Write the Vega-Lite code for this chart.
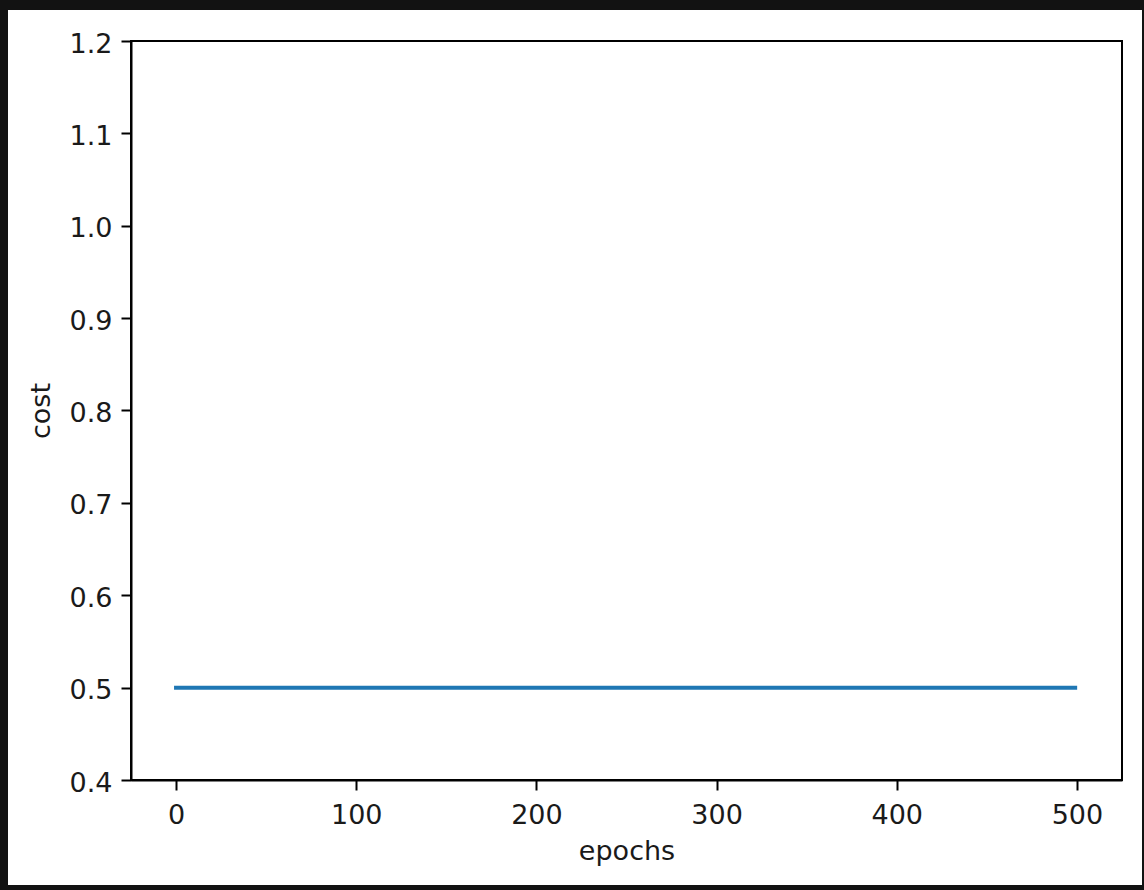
{
  "$schema": "https://vega.github.io/schema/vega-lite/v6.json",
  "width": 991,
  "height": 739,
  "autosize": {"type": "none"},
  "padding": {"left": 131, "top": 41, "right": 22, "bottom": 110},
  "background": "#121212",
  "data": {
    "values": [
      {"epoch": 0, "cost": 0.5},
      {"epoch": 50, "cost": 0.5},
      {"epoch": 100, "cost": 0.5},
      {"epoch": 150, "cost": 0.5},
      {"epoch": 200, "cost": 0.5},
      {"epoch": 250, "cost": 0.5},
      {"epoch": 300, "cost": 0.5},
      {"epoch": 350, "cost": 0.5},
      {"epoch": 400, "cost": 0.5},
      {"epoch": 450, "cost": 0.5},
      {"epoch": 499, "cost": 0.5}
    ]
  },
  "config": {
    "view": {"stroke": null},
    "axis": {
      "grid": false,
      "domainColor": "#000000",
      "domainWidth": 2,
      "tickColor": "#000000",
      "tickWidth": 2,
      "tickSize": 10,
      "labelFont": "DejaVu Sans",
      "labelFontSize": 27,
      "labelColor": "#1a1a1a",
      "labelFlush": false,
      "labelOverlap": false,
      "titleFont": "DejaVu Sans",
      "titleFontSize": 27,
      "titleFontWeight": "normal",
      "titleColor": "#1a1a1a"
    },
    "axisX": {"labelPadding": 12, "titlePadding": 10},
    "axisY": {"labelPadding": 9, "labelOffset": 3, "titlePadding": 14}
  },
  "layer": [
    {
      "mark": {"type": "rect", "fill": "#ffffff", "clip": false, "tooltip": null},
      "encoding": {
        "x": {"datum": -93.26, "type": "quantitative", "title": "epochs", "scale": {"domain": [-25, 525], "nice": false, "zero": false},
          "axis": {"zindex": 2, "values": [0, 100, 200, 300, 400, 500]}},
        "x2": {"datum": 536.1},
        "y": {"datum": 0.2863, "type": "quantitative", "title": "cost", "scale": {"domain": [0.4, 1.2], "nice": false, "zero": false},
          "axis": {"zindex": 2, "values": [0.4, 0.5, 0.6, 0.7, 0.8, 0.9, 1.0, 1.1, 1.2], "format": ".1f"}},
        "y2": {"datum": 1.2336}
      }
    },
    {
      "mark": {"type": "rect", "fill": null, "stroke": "#000000", "strokeWidth": 2, "clip": false, "tooltip": null},
      "encoding": {
        "x": {"datum": -25, "type": "quantitative", "title": "epochs",
          "axis": {"zindex": 2, "values": [0, 100, 200, 300, 400, 500]}},
        "x2": {"datum": 525},
        "y": {"datum": 0.4, "type": "quantitative", "title": "cost",
          "axis": {"zindex": 2, "values": [0.4, 0.5, 0.6, 0.7, 0.8, 0.9, 1.0, 1.1, 1.2], "format": ".1f"}},
        "y2": {"datum": 1.2}
      }
    },
    {
      "mark": {"type": "line", "color": "#1f77b4", "strokeWidth": 4, "strokeCap": "square"},
      "encoding": {
        "x": {"field": "epoch", "type": "quantitative", "title": "epochs",
          "axis": {"zindex": 2, "values": [0, 100, 200, 300, 400, 500]}},
        "y": {"field": "cost", "type": "quantitative", "title": "cost",
          "axis": {"zindex": 2, "values": [0.4, 0.5, 0.6, 0.7, 0.8, 0.9, 1.0, 1.1, 1.2], "format": ".1f"}}
      }
    }
  ]
}
